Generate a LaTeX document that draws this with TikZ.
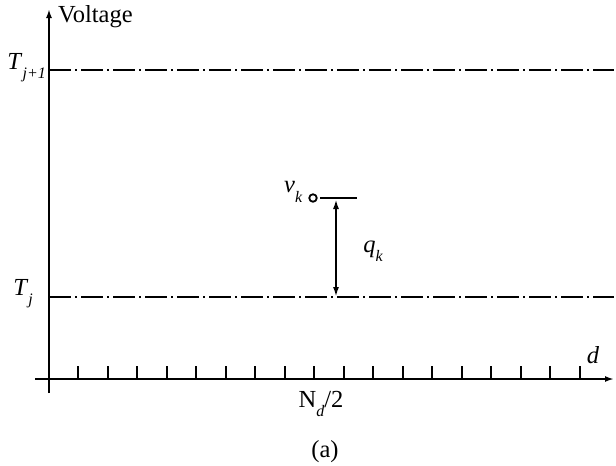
\documentclass[tikz,border=0pt]{standalone}
\usepackage{fontspec}
\setmainfont{Liberation Serif}
\usetikzlibrary{positioning,arrows.meta}
\newcommand{\subit}[1]{\raisebox{-0.38em}{\fontsize{16}{17}\selectfont\itshape #1}}
\tikzset{
  axisLine/.style={line width=2.7pt, -{Latex[length=9pt,width=6pt]}},
  levelLine/.style={line width=2.2pt, dash pattern=on 22pt off 4pt on 2pt off 4pt},
  tickMark/.style={line width=2.2pt},
  gapArrow/.style={line width=2.1pt, {Latex[length=10pt,width=6pt]}-{Latex[length=10pt,width=6pt]}},
  axisLabel/.style={font=\fontsize{24.5}{27}\selectfont, inner sep=1pt}
}
\begin{document}
\begin{tikzpicture}[x=1pt, y=-1pt]
  \useasboundingbox (0,0) rectangle (616,466);
  % axes
  \coordinate (yBot) at (49,393);
  \coordinate (yTop) at (49,9);
  \coordinate (xLeft) at (35,379);
  \coordinate (xRight) at (614,379);
  \draw[axisLine] (yBot) -- (yTop);
  \draw[axisLine] (xLeft) -- (xRight);
  % threshold levels
  \coordinate (upL) at (49,70);
  \coordinate (upR) at (614,70);
  \coordinate (lowL) at (49,297);
  \coordinate (lowR) at (614,297);
  \draw[levelLine] (upL) -- (upR);
  \draw[levelLine] (lowL) -- (lowR);
  % ticks
  \foreach \i in {0,...,17}
    \draw[tickMark] (78.3+29.5*\i,366) -- (78.3+29.5*\i,379);
  % labels
  \node[axisLabel, anchor=west] (volt) at (57,17) {Voltage};
  \node[axisLabel, anchor=east] (tUp) at (47,68) {\textit{T}\subit{j+1}};
  \node[axisLabel, anchor=east] (tLow) at (34,294) {\textit{T}\subit{j}};
  \node[axisLabel] (dLab) at (593,355) {\textit{d}};
  \node[axisLabel] (half) at (321,404) {N\subit{d}/2};
  \node[axisLabel] (cap) at (325,452) {(a)};
  % sample and its distance to the level
  \node[circle, draw, line width=1.8pt, inner sep=0pt, minimum size=7.5pt] (vk) at (313,198) {};
  \coordinate (barL) at (320,198);
  \coordinate (barR) at (357,198);
  \draw[line width=2.2pt] (barL) -- (barR);
  \coordinate (qTop) at (336,199);
  \coordinate (qBot) at (336,297);
  \draw[gapArrow] (qTop) -- (qBot);
  \node[axisLabel, left=5pt of vk, yshift=6pt] (vLab) {\textit{v}\subit{k}};
  \node[axisLabel] (qLab) at (373,251) {\textit{q}\subit{k}};
\end{tikzpicture}
\end{document}
